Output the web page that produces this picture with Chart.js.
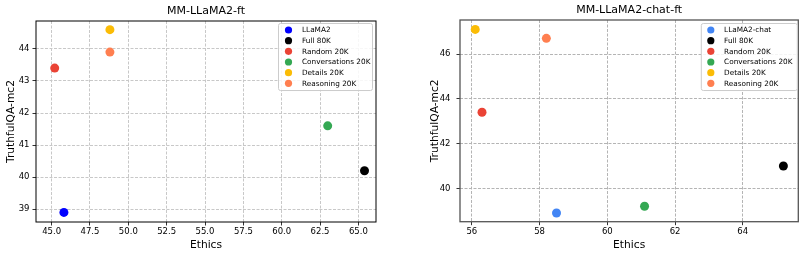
<!DOCTYPE html>
<html>
<head>
<meta charset="utf-8">
<script src="https://cdn.jsdelivr.net/npm/chart.js@4.4.1/dist/chart.umd.min.js"></script>
<style>
  html, body { margin: 0; padding: 0; background: #fff; }
  #wrap { position: relative; width: 805px; height: 258px; }
  .box { position: absolute; top: 0; height: 258px; }
</style>
</head>
<body>
<div id="wrap">
  <div class="box" style="left:0;width:402px"><canvas id="chartFt"></canvas></div>
  <div class="box" style="left:402px;width:403px"><canvas id="chartChat"></canvas></div>
</div>
<script>
// Datos
const labelsFt = ['LLaMA2', 'Full 80K', 'Random 20K', 'Conversations 20K', 'Details 20K', 'Reasoning 20K'];
const ethicsFt = [45.8, 65.4, 45.2, 63.0, 48.8, 48.8];
const truthFt = [38.9, 40.2, 43.4, 41.6, 44.6, 43.9];
const coloresFt = ['#0000ff', '#000000', '#ea4335', '#34a853', '#fbbc05', '#ff7f50'];

const labelsChat = ['LLaMA2-chat', 'Full 80K', 'Random 20K', 'Conversations 20K', 'Details 20K', 'Reasoning 20K'];
const ethicsChat = [58.5, 65.2, 56.3, 61.1, 56.1, 58.2];
const truthChat = [38.9, 41.0, 43.4, 39.2, 47.1, 46.7];
const coloresChat = ['#4285f4', '#000000', '#ea4335', '#34a853', '#fbbc05', '#ff7f50'];

const FONT = 'DejaVu Sans';

// Marco completo alrededor del área del gráfico (estilo matplotlib)
const marcoPlugin = {
    id: 'marco',
    afterDatasetsDraw(chart, args, opts) {
        const a = chart.chartArea;
        const ctx = chart.ctx;
        ctx.save();
        ctx.strokeStyle = opts.color || '#000';
        ctx.lineWidth = opts.width || 1;
        ctx.strokeRect(a.left, a.top, a.right - a.left, a.bottom - a.top);
        ctx.restore();
    }
};

// Leyenda dentro del área, arriba a la derecha
const leyendaPlugin = {
    id: 'leyendaDentro',
    afterDatasetsDraw(chart, args, opts) {
        const a = chart.chartArea;
        const ctx = chart.ctx;
        const ds = chart.data.datasets;
        const x0 = a.right - opts.right - opts.width;
        const y0 = a.top + opts.top;
        const h = opts.rowH * ds.length + 3;
        ctx.save();
        ctx.fillStyle = 'rgba(255,255,255,0.85)';
        ctx.strokeStyle = '#cccccc';
        ctx.lineWidth = 1;
        ctx.beginPath();
        ctx.roundRect(x0 + 0.5, y0 + 0.5, opts.width, h, 2);
        ctx.fill();
        ctx.stroke();
        ctx.font = '7.3px "' + FONT + '"';
        ctx.textBaseline = 'middle';
        ds.forEach((d, i) => {
            const cy = y0 + 7 + i * opts.rowH;
            ctx.fillStyle = d.backgroundColor;
            ctx.beginPath();
            ctx.arc(x0 + opts.markX, cy, 3.6, 0, Math.PI * 2);
            ctx.fill();
            ctx.fillStyle = '#000';
            ctx.fillText(d.label, x0 + opts.textX, cy + 0.5);
        });
        ctx.restore();
    }
};

function crearScatter(id, cfg) {
    const datasets = cfg.labels.map((lab, i) => ({
        label: lab,
        data: [{ x: cfg.xs[i], y: cfg.ys[i] }],
        backgroundColor: cfg.colores[i],
        borderColor: cfg.colores[i],
        pointRadius: 4.5,
        pointHoverRadius: 4.5,
        borderWidth: 0
    }));
    return new Chart(document.getElementById(id), {
        type: 'scatter',
        data: { datasets },
        plugins: [marcoPlugin, leyendaPlugin],
        options: {
            responsive: true,
            maintainAspectRatio: false,
            animation: false,
            layout: { padding: cfg.padding },
            plugins: {
                legend: { display: false },
                tooltip: { enabled: false },
                title: {
                    display: true,
                    text: cfg.titulo,
                    fullSize: false,
                    color: '#000',
                    font: { family: FONT, size: 11, weight: 'normal' },
                    padding: cfg.titlePad
                },
                marco: { color: cfg.marco, width: cfg.marcoW },
                leyendaDentro: cfg.leyenda
            },
            scales: {
                x: {
                    type: 'linear',
                    min: cfg.xMin, max: cfg.xMax,
                    afterFit: s => { s.height = cfg.xH; },
                    grid: { color: cfg.gridColor, tickColor: '#333', tickLength: 3.5, tickBorderDash: [] },
                    border: { display: false, dash: [3, 1.5] },
                    ticks: {
                        stepSize: cfg.xStep, includeBounds: false, maxRotation: 0,
                        color: '#000', padding: 1,
                        font: { family: FONT, size: 8.5 },
                        callback: cfg.xFmt
                    },
                    title: {
                        display: true, text: 'Ethics', color: '#000',
                        font: { family: FONT, size: 10.7 },
                        padding: { top: 0, bottom: 6 }
                    }
                },
                y: {
                    type: 'linear',
                    min: cfg.yMin, max: cfg.yMax,
                    afterFit: s => { s.width = cfg.yW; },
                    grid: { color: cfg.gridColor, tickColor: '#333', tickLength: 3.5, tickBorderDash: [] },
                    border: { display: false, dash: [3, 1.5] },
                    ticks: {
                        stepSize: cfg.yStep, includeBounds: false,
                        color: '#000', padding: cfg.yTickPad,
                        font: { family: FONT, size: 8.5 }
                    },
                    title: {
                        display: true, text: 'TruthfulQA-mc2', color: '#000',
                        font: { family: FONT, size: 10.7 },
                        padding: { top: 1, bottom: 0 }
                    }
                }
            }
        }
    });
}

crearScatter('chartFt', {
    titulo: 'MM-LLaMA2-ft',
    labels: labelsFt, xs: ethicsFt, ys: truthFt, colores: coloresFt,
    padding: { left: 4, right: 26, top: 0, bottom: 0 },
    titlePad: { top: 5, bottom: 2.8 },
    xMin: 43.98, xMax: 66.15, xStep: 2.5, xFmt: v => Number(v).toFixed(1),
    yMin: 38.6, yMax: 44.87, yStep: 1,
    xH: 36, yW: 32, yTickPad: 3,
    gridColor: '#c8c8c8', marco: '#000', marcoW: 1,
    leyenda: { right: 4, top: 2, width: 94, rowH: 10.67, markX: 10.5, textX: 24 }
});

crearScatter('chartChat', {
    titulo: 'MM-LLaMA2-chat-ft',
    labels: labelsChat, xs: ethicsChat, ys: truthChat, colores: coloresChat,
    padding: { left: 26, right: 6.7, top: 0, bottom: 0 },
    titlePad: { top: 4, bottom: 2.8 },
    xMin: 55.65, xMax: 65.64, xStep: 2, xFmt: v => String(v),
    yMin: 38.51, yMax: 47.52, yStep: 2,
    xH: 36.3, yW: 32, yTickPad: 6,
    gridColor: '#b4b4b4', marco: '#555', marcoW: 1.3,
    leyenda: { right: 1.5, top: 3, width: 96, rowH: 10.67, markX: 10, textX: 23.3 }
});
</script>
</body>
</html>
